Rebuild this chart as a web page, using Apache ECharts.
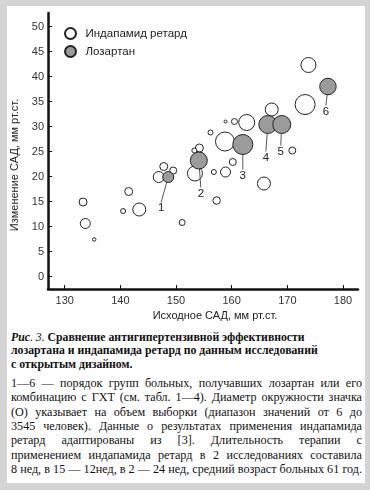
<!DOCTYPE html>
<html>
<head>
<meta charset="utf-8">
<script src="https://cdn.jsdelivr.net/npm/echarts@6/dist/echarts.min.js"></script>
<style>
  html, body { margin: 0; padding: 0; }
  body { width: 370px; height: 490px; background: #d4d4d4; position: relative; overflow: hidden; }
  #panel { position: absolute; left: 7px; top: 6px; width: 358px; height: 477px; background: #fff; }
  #chart { position: absolute; left: 0; top: 0; width: 370px; height: 325px; }
  #caption { position: absolute; left: 11px; top: 331px; width: 351px; font-family: "Liberation Serif", "DejaVu Serif", serif; color: #111; }
  .head { font-weight: bold; font-size: 13px; line-height: 13.3px; white-space: nowrap; }
  .body { font-size: 13px; line-height: 14.33px; margin-top: 5px; }
  .body div { text-align: justify; text-align-last: justify; white-space: nowrap; }
  .measure { display: inline-block; white-space: nowrap; }
</style>
</head>
<body>
<div id="panel"></div>
<div id="chart"></div>
<div id="caption">
  <div class="head" id="head">
    <div><i>Рис</i><span style="font-weight:normal"><i>. 3.</i></span> Сравнение антигипертензивной эффективности</div>
    <div id="headRef">лозартана и индапамида ретард по данным исследований</div>
    <div>с открытым дизайном.</div>
  </div>
  <div class="body" id="body">
    <div>1—6 — порядок групп больных, получавших лозартан или его</div>
    <div>комбинацию с ГХТ (см. табл. 1—4). Диаметр окружности значка</div>
    <div>(О) указывает на объем выборки (диапазон значений от 6 до</div>
    <div>3545 человек). Данные о результатах применения индапамида</div>
    <div>ретард адаптированы из [3]. Длительность терапии с</div>
    <div>применением индапамида ретард в 2 исследованиях составила</div>
    <div>8 нед, в 15 — 12нед, в 2 — 24 нед, средний возраст больных 61 год.</div>
  </div>
</div>
<script>
// ---- Data ----
const seriesNames = ['Индапамид ретард', 'Лозартан'];

// Индапамид ретард: baseline SBP, SBP change, marker diameter (sample-size proxy)
const indapX = [133.3, 133.7, 135.3, 141.5, 140.5, 143.4, 146.9, 147.8, 149.5, 153.4,
                154.2, 153.3, 156.8, 157.3, 151.1, 158.9, 160.2, 165.8, 170.9, 156.2,
                158.9, 160.5, 162.7, 158.8, 167.2, 173.2, 173.8];
const indapY = [14.9, 10.6, 7.4, 17.0, 13.1, 13.4, 19.9, 22.0, 21.2, 20.6,
                25.7, 25.2, 20.9, 15.2, 10.8, 20.9, 22.9, 18.6, 25.2, 28.8,
                31.0, 31.0, 30.8, 27.0, 33.4, 34.4, 42.3];
const indapSize = [8, 10, 3.5, 8, 5, 13, 11, 8, 7, 15,
                   8, 5, 5, 7.5, 6, 10, 7, 13, 7, 5,
                   3, 6, 16, 19, 13, 20, 15];

// Лозартан
const losX = [148.6, 154.1, 162.0, 166.5, 169.0, 177.3];
const losY = [19.9, 23.2, 26.4, 30.4, 30.4, 38.0];
const losSize = [11, 17, 20, 18, 18, 16.5];
const losLabels = ['1', '2', '3', '4', '5', '6'];

// Axes
const xTicks = [130, 140, 150, 160, 170, 180];
const yTicks = [0, 5, 10, 15, 20, 25, 30, 35, 40, 45, 50];
const xName = 'Исходное САД, мм рт.ст.';
const yName = 'Изменение САД, мм рт.ст.';

// ---- Caption fitting (style only) ----
function fitLines(container, lines, base, target) {
  let maxW = 0;
  lines.forEach(el => {
    const s = document.createElement('span');
    s.className = 'measure';
    s.innerHTML = el.innerHTML;
    s.style.fontSize = base + 'px';
    el.innerHTML = '';
    el.appendChild(s);
    maxW = Math.max(maxW, s.getBoundingClientRect().width);
    el.innerHTML = s.innerHTML;
  });
  container.style.fontSize = (base * target / maxW).toFixed(2) + 'px';
}
fitLines(document.getElementById('body'), Array.from(document.querySelectorAll('#body div')), 13, 350);
fitLines(document.getElementById('head'), [document.getElementById('headRef')], 13, 307);

// ---- Style only ----
const labelOffsets = [[-7, 31], [2, 33], [0, 31], [-2, 33], [-1, 27], [-2, 25]];
const FONT = '"Liberation Sans", Arial, sans-serif';

const indapData = indapX.map((x, i) => [x, indapY[i], indapSize[i]]);
const losData = losX.map((x, i) => ({ value: [x, losY[i], losSize[i]], name: losLabels[i] }));

const chart = echarts.init(document.getElementById('chart'), null, { renderer: 'canvas' });
chart.setOption({
  animation: false,
  backgroundColor: 'transparent',
  textStyle: { fontFamily: FONT },
  grid: { left: 48, top: 13, width: 310, height: 276, containLabel: false, outerBoundsMode: 'none' },
  legend: {
    data: seriesNames,
    orient: 'vertical',
    left: 59,
    top: 22,
    itemWidth: 20,
    itemHeight: 11,
    itemGap: 5,
    icon: 'circle',
    textStyle: { fontFamily: FONT, fontSize: 11.5, color: '#222' }
  },
  xAxis: {
    type: 'value',
    min: 127,
    max: 182.7,
    name: xName,
    nameLocation: 'middle',
    nameGap: 20,
    nameTextStyle: { fontFamily: FONT, fontSize: 11, color: '#222', padding: [0, 0, 0, 24] },
    axisLine: { show: true, onZero: false, lineStyle: { color: '#111', width: 2.5 } },
    axisTick: { show: true, inside: true, length: 4, customValues: xTicks, lineStyle: { color: '#111', width: 1 } },
    axisLabel: { customValues: xTicks, fontFamily: FONT, fontSize: 11, color: '#333', margin: 6 },
    splitLine: { show: false }
  },
  yAxis: {
    type: 'value',
    min: -2.5,
    max: 52.7,
    name: yName,
    nameLocation: 'middle',
    nameGap: 24,
    nameTextStyle: { fontFamily: FONT, fontSize: 11, color: '#222', padding: [0, 28, 0, 0] },
    axisLine: { show: true, onZero: false, lineStyle: { color: '#111', width: 2.5 } },
    axisTick: { show: true, inside: true, length: 4, customValues: yTicks, lineStyle: { color: '#111', width: 1 } },
    axisLabel: { customValues: yTicks, fontFamily: FONT, fontSize: 11, color: '#333', margin: 4 },
    splitLine: { show: false }
  },
  series: [
    {
      name: seriesNames[0],
      type: 'scatter',
      data: indapData,
      symbol: 'circle',
      symbolSize: v => v[2],
      itemStyle: { color: '#ffffff', borderColor: '#222', borderWidth: 1, opacity: 1 },
      emphasis: { disabled: true },
      z: 2
    },
    {
      name: seriesNames[1],
      type: 'scatter',
      data: losData,
      symbol: 'circle',
      symbolSize: v => v[2],
      itemStyle: { color: '#9b9b9b', borderColor: '#222', borderWidth: 1, opacity: 1 },
      emphasis: { disabled: true },
      label: {
        show: true,
        position: 'inside',
        formatter: p => p.name,
        fontFamily: FONT,
        fontSize: 11.5,
        color: '#222'
      },
      labelLine: { show: true, lineStyle: { color: '#555', width: 1 } },
      labelLayout: p => ({ dx: labelOffsets[p.dataIndex][0], dy: labelOffsets[p.dataIndex][1] }),
      z: 3
    }
  ]
});
</script>
</body>
</html>
